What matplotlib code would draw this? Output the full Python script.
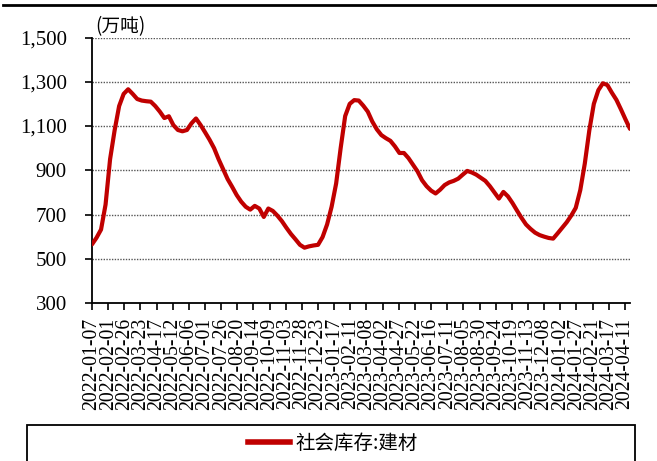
import matplotlib
matplotlib.use("Agg")
import matplotlib.pyplot as plt
import matplotlib.patches as mpatches
import matplotlib.lines as mlines
import pandas as pd

# Weekly social inventory of building materials (10k tonnes)
start_date = "2022-01-07"
values = [
    565, 595, 632, 745, 950, 1080, 1190, 1245, 1266, 1245,
    1222, 1215, 1212, 1210, 1190, 1165, 1136, 1144, 1104, 1082,
    1076, 1082, 1112, 1134, 1105, 1072, 1038, 1000, 950, 905,
    860, 825, 788, 758, 735, 722, 739, 727, 689, 727,
    716, 695, 670, 640, 612, 588, 563, 550, 556, 560,
    563, 598, 655, 735, 840, 1000, 1145, 1200, 1217, 1215,
    1192, 1165, 1120, 1085, 1059, 1045, 1033, 1008, 978, 978,
    955, 925, 895, 855, 828, 808, 795, 812, 833, 845,
    852, 862, 880, 897, 890, 880, 866, 852, 828, 800,
    772, 802, 782, 752, 718, 685, 655, 635, 618, 607,
    600, 594, 591, 615, 640, 665, 695, 730, 810, 930,
    1080, 1200, 1262, 1293, 1285, 1250, 1218, 1175, 1130, 1087,
]
dates = pd.date_range(start_date, periods=len(values), freq="7D")

tick_labels = [
    "2022-01-07", "2022-02-01", "2022-02-26", "2022-03-23", "2022-04-17",
    "2022-05-12", "2022-06-06", "2022-07-01", "2022-07-26", "2022-08-20",
    "2022-09-14", "2022-10-09", "2022-11-03", "2022-11-28", "2022-12-23",
    "2023-01-17", "2023-02-11", "2023-03-08", "2023-04-02", "2023-04-27",
    "2023-05-22", "2023-06-16", "2023-07-11", "2023-08-05", "2023-08-30",
    "2023-09-24", "2023-10-19", "2023-11-13", "2023-12-08", "2024-01-02",
    "2024-01-27", "2024-02-21", "2024-03-17", "2024-04-11",
]
y_ticks = [300, 500, 700, 900, 1100, 1300, 1500]
series_name = "社会库存:建材"
unit_label = "(万吨)"

serif = ["Liberation Serif", "DejaVu Serif"]
cjk = ["Noto Sans CJK SC", "DejaVu Sans"]
line_color = "#C00000"

fig = plt.figure(figsize=(6.57, 4.61), dpi=100)
ax = fig.add_axes([92 / 657, 1 - 303 / 461, (630 - 92) / 657, (303 - 37.5) / 461])

ax.plot(dates, values, color=line_color, lw=3.0, solid_joinstyle="round",
        solid_capstyle="round", zorder=3)

ax.set_xlim(dates[0], dates[-1])
ax.set_ylim(y_ticks[0], y_ticks[-1])

tick_dates = pd.to_datetime(tick_labels)
ax.set_xticks(tick_dates)
ax.set_xticklabels(tick_labels, rotation=90, fontfamily=serif, fontsize=14.2)
ax.set_yticks(y_ticks)
ax.set_yticklabels([f"{v:,}" for v in y_ticks], fontfamily=serif, fontsize=15)

ax.tick_params(axis="both", direction="out", length=5, width=1.2, color="black")
ax.tick_params(axis="x", pad=5.5)
ax.tick_params(axis="y", pad=13)

for s in ["top", "right"]:
    ax.spines[s].set_visible(False)
for s in ["left", "bottom"]:
    ax.spines[s].set_linewidth(1.3)
    ax.spines[s].set_color("black")

for v in y_ticks[1:]:
    ax.axhline(v, color="#555555", lw=1.0, ls=(0, (1, 1)), zorder=1)

ax.text(0.006, 1.0, unit_label, transform=ax.transAxes, ha="left", va="bottom",
        fontfamily=cjk, fontsize=13.5)

# Top rule across the page
fig.add_artist(mlines.Line2D([0.004, 1.0], [1 - 5.5 / 461] * 2,
                             transform=fig.transFigure, color="black", lw=2))

# Legend frame
fig.add_artist(mpatches.Rectangle((27 / 657, -0.02), (635 - 27) / 657, 0.02 + 1 - 425 / 461,
                                  transform=fig.transFigure, fill=False,
                                  edgecolor="black", lw=1.3))
handle = mlines.Line2D([], [], color=line_color, lw=4)
leg = fig.legend([handle], [series_name], loc="center", bbox_to_anchor=(333 / 657, 1 - 443 / 461),
                 frameon=False, handlelength=2.15, handletextpad=0.3,
                 prop={"family": cjk, "size": 14})

fig.savefig("out.png", dpi=100)
